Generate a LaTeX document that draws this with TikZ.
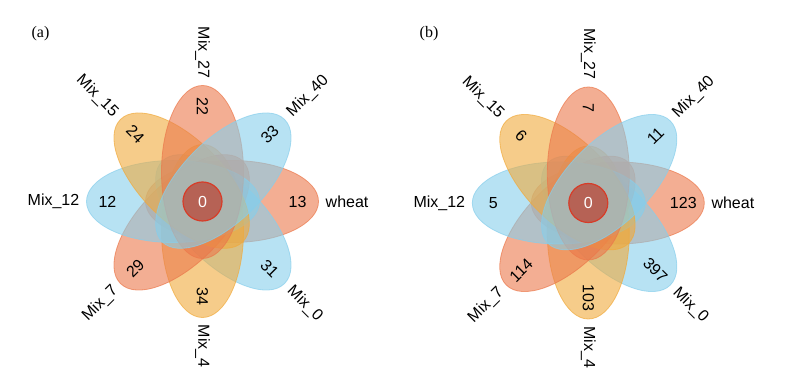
\documentclass[tikz,border=0pt]{standalone}
\usepackage{fontspec}
\setmainfont{Liberation Serif}
\setsansfont{Liberation Sans}
\usetikzlibrary{calc}
\definecolor{petalblue}{RGB}{135,206,235}
\definecolor{petalorange}{RGB}{235,120,75}
\definecolor{petalyellow}{RGB}{240,170,60}
\definecolor{corefill}{RGB}{182,98,85}
\definecolor{coreline}{RGB}{215,60,40}

\begin{document}
\begin{tikzpicture}[x=1pt,y=1pt,
  petal/.style={fill=#1,fill opacity=0.6,draw=#1,draw opacity=0.7,line width=0.8pt},
  count/.style={font=\sffamily\fontsize{16}{19}\selectfont,inner sep=0pt},
  setname/.style={font=\sffamily\fontsize{16}{19}\selectfont,inner sep=0pt},
  core/.style={circle,minimum size=39pt,inner sep=0pt,fill=corefill,draw=coreline,line width=1.2pt,text=white,font=\sffamily\fontsize{16}{19}\selectfont},
  tag/.style={font=\rmfamily\fontsize{16}{18}\selectfont}]
\useasboundingbox (0,0) rectangle (800,371);
\coordinate (ca) at (202.5,169.5);
\coordinate (cb) at (588.3,168);
\node[tag] (taga) at (40.5,337) {(a)};
\node[tag] (tagb) at (429,337) {(b)};
% panel (a), petals drawn clockwise from wheat
\foreach \ang/\col/\rot/\side/\num/\name [count=\i] in
  {0/petalorange/0/west/13/wheat, 315/petalblue/-45/west/31/Mix\_0,
   270/petalyellow/-90/west/34/Mix\_4, 225/petalorange/45/east/29/Mix\_7,
   180/petalblue/0/east/12/Mix\_12, 135/petalyellow/-45/east/24/Mix\_15,
   90/petalorange/-90/east/22/Mix\_27, 45/petalblue/45/west/33/Mix\_40} {
  \path[petal=\col,shift={(ca)},rotate=\ang] (29.5,0) ellipse (86.5 and 41);
  \node[count,rotate=\rot] (na\i) at ($(ca)+(\ang:95)$) {\num};
  \node[setname,rotate=\rot,anchor=\side] (sa\i) at ($(ca)+(\ang:123)$) {\name};
}
\node[core] (corea) at (ca) {0};
% panel (b)
\foreach \ang/\col/\rot/\side/\num/\name [count=\i] in
  {0/petalorange/0/west/123/wheat, 315/petalblue/-45/west/397/Mix\_0,
   270/petalyellow/-90/west/103/Mix\_4, 225/petalorange/45/east/114/Mix\_7,
   180/petalblue/0/east/5/Mix\_12, 135/petalyellow/-45/east/6/Mix\_15,
   90/petalorange/-90/east/7/Mix\_27, 45/petalblue/45/west/11/Mix\_40} {
  \path[petal=\col,shift={(cb)},rotate=\ang] (29.5,0) ellipse (86.5 and 41);
  \node[count,rotate=\rot] (nb\i) at ($(cb)+(\ang:95)$) {\num};
  \node[setname,rotate=\rot,anchor=\side] (sb\i) at ($(cb)+(\ang:123)$) {\name};
}
\node[core] (coreb) at (cb) {0};
\end{tikzpicture}
\end{document}
